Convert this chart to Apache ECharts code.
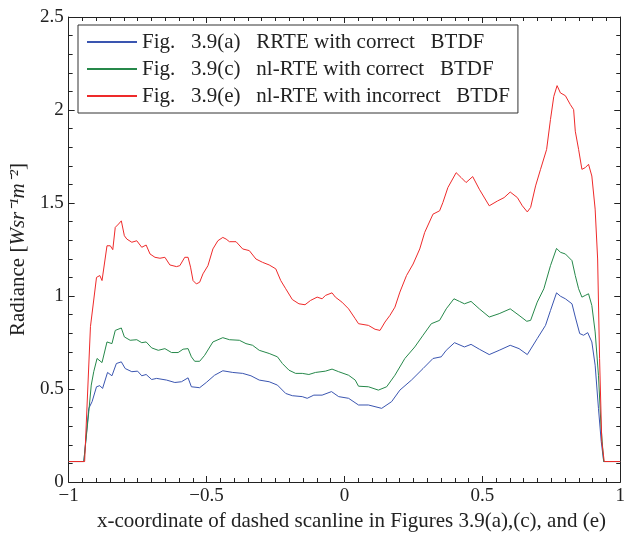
<!DOCTYPE html>
<html>
<head>
<meta charset="utf-8">
<script src="https://cdn.jsdelivr.net/npm/echarts@6/dist/echarts.min.js"></script>
<style>
html,body{margin:0;padding:0;background:#fff;}
#chart{width:628px;height:537px;}
</style>
</head>
<body>
<div id="chart"></div>
<script>
// ---- Data ----
const seriesNames = [
  'Fig.\u2002 3.9(a)\u2002 RRTE with correct\u2002 BTDF',
  'Fig.\u2002 3.9(c)\u2002 nl-RTE with correct\u2002 BTDF',
  'Fig.\u2002 3.9(e)\u2002 nl-RTE with incorrect\u2002 BTDF'
];

const xTicks = [-1, -0.5, 0, 0.5, 1];
const yTicks = [0, 0.5, 1, 1.5, 2, 2.5];

// Fig 3.9(a) RRTE, correct BTDF (blue)
const blueX = [-1, -0.945, -0.927, -0.915, -0.899, -0.887, -0.877, -0.859, -0.843, -0.827, -0.809, -0.795, -0.771, -0.750, -0.735, -0.719, -0.699, -0.681, -0.645, -0.615, -0.591, -0.567, -0.555, -0.525, -0.501, -0.471, -0.441, -0.405, -0.369, -0.339, -0.309, -0.273, -0.243, -0.213, -0.189, -0.153, -0.135, -0.111, -0.081, -0.047, -0.021, 0.015, 0.051, 0.087, 0.135, 0.171, 0.201, 0.243, 0.285, 0.321, 0.351, 0.369, 0.399, 0.435, 0.459, 0.489, 0.525, 0.561, 0.601, 0.633, 0.663, 0.699, 0.729, 0.747, 0.769, 0.783, 0.801, 0.825, 0.837, 0.853, 0.867, 0.882, 0.897, 0.909, 0.921, 0.931, 0.940, 1];
const blueY = [0.11, 0.11, 0.396, 0.432, 0.512, 0.518, 0.503, 0.589, 0.571, 0.637, 0.646, 0.610, 0.593, 0.596, 0.571, 0.578, 0.551, 0.557, 0.548, 0.535, 0.539, 0.560, 0.512, 0.507, 0.535, 0.574, 0.598, 0.589, 0.584, 0.571, 0.548, 0.539, 0.521, 0.476, 0.464, 0.459, 0.450, 0.467, 0.467, 0.486, 0.459, 0.450, 0.414, 0.414, 0.396, 0.432, 0.494, 0.548, 0.610, 0.664, 0.673, 0.708, 0.749, 0.726, 0.740, 0.714, 0.685, 0.708, 0.735, 0.717, 0.685, 0.771, 0.842, 0.922, 1.017, 0.999, 0.985, 0.958, 0.887, 0.798, 0.789, 0.803, 0.753, 0.628, 0.396, 0.218, 0.11, 0.11];

// Fig 3.9(c) nl-RTE, correct BTDF (green)
const greenX = [-1, -0.945, -0.927, -0.918, -0.909, -0.897, -0.879, -0.861, -0.843, -0.831, -0.809, -0.798, -0.777, -0.753, -0.735, -0.719, -0.699, -0.675, -0.651, -0.627, -0.603, -0.585, -0.567, -0.555, -0.543, -0.525, -0.507, -0.477, -0.441, -0.417, -0.381, -0.357, -0.333, -0.309, -0.273, -0.243, -0.225, -0.201, -0.177, -0.153, -0.129, -0.105, -0.069, -0.045, -0.021, 0.015, 0.039, 0.051, 0.087, 0.123, 0.153, 0.183, 0.219, 0.255, 0.285, 0.315, 0.345, 0.369, 0.397, 0.417, 0.435, 0.459, 0.489, 0.525, 0.561, 0.601, 0.633, 0.661, 0.675, 0.699, 0.723, 0.747, 0.769, 0.783, 0.801, 0.825, 0.837, 0.849, 0.861, 0.873, 0.885, 0.897, 0.909, 0.921, 0.930, 0.940, 1];
const greenY = [0.11, 0.11, 0.378, 0.521, 0.593, 0.664, 0.642, 0.753, 0.744, 0.815, 0.828, 0.780, 0.762, 0.765, 0.749, 0.753, 0.721, 0.708, 0.717, 0.696, 0.696, 0.714, 0.717, 0.673, 0.649, 0.649, 0.681, 0.753, 0.776, 0.765, 0.762, 0.744, 0.735, 0.708, 0.691, 0.673, 0.637, 0.601, 0.584, 0.584, 0.578, 0.589, 0.596, 0.607, 0.593, 0.574, 0.548, 0.515, 0.512, 0.494, 0.512, 0.574, 0.664, 0.726, 0.789, 0.851, 0.869, 0.931, 0.985, 0.971, 0.958, 0.971, 0.931, 0.887, 0.905, 0.931, 0.896, 0.864, 0.869, 0.967, 1.039, 1.163, 1.256, 1.235, 1.226, 1.190, 1.110, 1.039, 0.994, 1.003, 1.012, 0.949, 0.807, 0.574, 0.307, 0.11, 0.11];

// Fig 3.9(e) nl-RTE, incorrect BTDF (red)
const redX = [-1, -0.942, -0.921, -0.899, -0.887, -0.879, -0.861, -0.849, -0.840, -0.831, -0.819, -0.809, -0.798, -0.789, -0.771, -0.753, -0.735, -0.719, -0.705, -0.687, -0.669, -0.651, -0.633, -0.609, -0.597, -0.579, -0.567, -0.558, -0.549, -0.537, -0.525, -0.513, -0.495, -0.477, -0.459, -0.441, -0.429, -0.417, -0.393, -0.369, -0.345, -0.321, -0.297, -0.273, -0.249, -0.231, -0.213, -0.189, -0.165, -0.143, -0.123, -0.099, -0.081, -0.069, -0.045, -0.033, -0.009, 0.015, 0.039, 0.051, 0.087, 0.111, 0.129, 0.147, 0.165, 0.183, 0.201, 0.225, 0.249, 0.273, 0.291, 0.321, 0.345, 0.357, 0.375, 0.405, 0.423, 0.441, 0.465, 0.489, 0.525, 0.555, 0.579, 0.601, 0.627, 0.645, 0.663, 0.675, 0.693, 0.711, 0.733, 0.747, 0.759, 0.771, 0.783, 0.801, 0.819, 0.831, 0.837, 0.849, 0.861, 0.873, 0.885, 0.897, 0.909, 0.918, 0.925, 0.933, 0.942, 1];
const redY = [0.11, 0.11, 0.835, 1.100, 1.110, 1.083, 1.270, 1.270, 1.249, 1.369, 1.387, 1.404, 1.324, 1.306, 1.289, 1.297, 1.262, 1.274, 1.226, 1.208, 1.203, 1.208, 1.167, 1.158, 1.163, 1.208, 1.208, 1.155, 1.083, 1.065, 1.074, 1.119, 1.163, 1.253, 1.297, 1.315, 1.306, 1.292, 1.292, 1.253, 1.244, 1.199, 1.181, 1.167, 1.146, 1.083, 1.039, 0.981, 0.958, 0.953, 0.976, 0.994, 0.985, 1.003, 1.017, 0.994, 0.967, 0.931, 0.878, 0.851, 0.842, 0.821, 0.815, 0.860, 0.896, 0.940, 1.021, 1.110, 1.172, 1.253, 1.342, 1.440, 1.458, 1.503, 1.583, 1.663, 1.637, 1.610, 1.642, 1.574, 1.485, 1.511, 1.529, 1.559, 1.529, 1.485, 1.452, 1.476, 1.592, 1.681, 1.788, 1.949, 2.073, 2.131, 2.092, 2.077, 2.029, 2.002, 1.886, 1.788, 1.681, 1.690, 1.708, 1.645, 1.467, 1.199, 0.664, 0.218, 0.11, 0.11];

const colors = ['#3a55b0', '#26884a', '#ee2a2a'];

function pairs(xs, ys) { return xs.map((x, i) => [x, ys[i]]); }

const FONT = 'Liberation Serif';
const chart = echarts.init(document.getElementById('chart'), null, {renderer: 'canvas'});

const axLine = {show: true, onZero: false, lineStyle: {color: '#222', width: 1}};
const majTick = {show: true, inside: true, length: 6, lineStyle: {color: '#222'}};

const option = {
  animation: false,
  backgroundColor: '#fff',
  grid: {left: 68, right: 4, top: 17, bottom: 53, containLabel: false},
  legend: {
    data: seriesNames,
    orient: 'vertical',
    left: 78, top: 25,
    backgroundColor: '#fff',
    borderColor: '#333', borderWidth: 1,
    padding: [6, 8, 6, 9],
    itemWidth: 50, itemHeight: 2,
    itemGap: 5,
    icon: 'rect',
    textStyle: {fontFamily: FONT, fontSize: 21, color: '#222', lineHeight: 22}
  },
  xAxis: [{
    type: 'value', min: xTicks[0], max: xTicks[xTicks.length - 1], interval: 0.5,
    position: 'bottom',
    axisLine: axLine,
    axisTick: majTick,
    minorTick: {show: true, splitNumber: 10, length: 4, lineStyle: {color: '#222'}},
    splitLine: {show: false},
    axisLabel: {fontFamily: FONT, fontSize: 19, color: '#222', margin: 5,
      formatter: v => (v < 0 ? '\u2212' + Math.abs(v) : String(v))},
    name: 'x-coordinate of dashed scanline in Figures 3.9(a),(c), and (e)',
    nameLocation: 'middle', nameGap: 29,
    nameTextStyle: {fontFamily: FONT, fontSize: 21, color: '#222', padding: [0, 0, 0, 14]}
  }, {
    type: 'value', min: -1, max: 1, interval: 0.5, position: 'top',
    axisLine: axLine,
    axisTick: majTick,
    minorTick: {show: true, splitNumber: 10, length: 4, lineStyle: {color: '#222'}},
    splitLine: {show: false}, axisLabel: {show: false}
  }],
  yAxis: [{
    type: 'value', min: yTicks[0], max: yTicks[yTicks.length - 1], interval: 0.5,
    position: 'left',
    axisLine: axLine,
    axisTick: majTick,
    minorTick: {show: true, splitNumber: 5, length: 4, lineStyle: {color: '#222'}},
    splitLine: {show: false},
    axisLabel: {fontFamily: FONT, fontSize: 19, color: '#222', margin: 5},
    name: '{n|Radiance [}{i|Wsr\u207B\u00B9m\u207B\u00B2}{n|]}',
    nameLocation: 'middle', nameGap: 39, nameRotate: 90,
    nameTextStyle: {
      fontFamily: FONT, fontSize: 21, color: '#222',
      rich: {
        n: {fontFamily: FONT, fontSize: 21, color: '#222'},
        i: {fontFamily: FONT, fontSize: 21, fontStyle: 'italic', color: '#222'}
      }
    }
  }, {
    type: 'value', min: 0, max: 2.5, interval: 0.5, position: 'right',
    axisLine: axLine,
    axisTick: majTick,
    minorTick: {show: true, splitNumber: 5, length: 4, lineStyle: {color: '#222'}},
    splitLine: {show: false}, axisLabel: {show: false}
  }],
  series: [
    {name: seriesNames[0], type: 'line', data: pairs(blueX, blueY), showSymbol: false, symbol: 'none',
      lineStyle: {width: 1, color: colors[0]}, itemStyle: {color: colors[0]}, z: 2},
    {name: seriesNames[1], type: 'line', data: pairs(greenX, greenY), showSymbol: false, symbol: 'none',
      lineStyle: {width: 1, color: colors[1]}, itemStyle: {color: colors[1]}, z: 3},
    {name: seriesNames[2], type: 'line', data: pairs(redX, redY), showSymbol: false, symbol: 'none',
      lineStyle: {width: 1, color: colors[2]}, itemStyle: {color: colors[2]}, z: 4}
  ]
};
chart.setOption(option);
</script>
</body>
</html>
